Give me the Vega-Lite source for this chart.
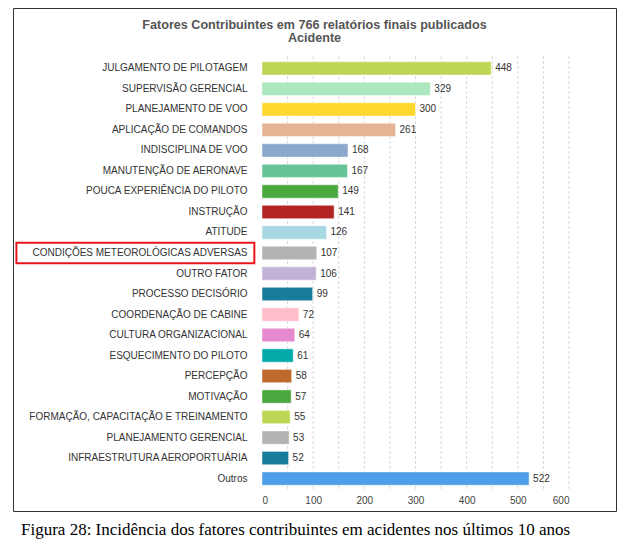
{
  "$schema": "https://vega.github.io/schema/vega-lite/v6.json",
  "background": "white",
  "padding": {"left": 12, "top": 7, "right": 10, "bottom": 10},
  "title": {
    "text": "Figura 28: Incidência dos fatores contribuintes em acidentes nos últimos 10 anos",
    "orient": "bottom",
    "anchor": "start",
    "frame": "group",
    "dx": 8,
    "offset": 10,
    "font": "Liberation Serif",
    "fontSize": 17,
    "fontWeight": "normal",
    "color": "#000000"
  },
  "datasets": {
    "fatores": [
      {"fator": "JULGAMENTO DE PILOTAGEM", "n": 448},
      {"fator": "SUPERVISÃO GERENCIAL", "n": 329},
      {"fator": "PLANEJAMENTO DE VOO", "n": 300},
      {"fator": "APLICAÇÃO DE COMANDOS", "n": 261},
      {"fator": "INDISCIPLINA DE VOO", "n": 168},
      {"fator": "MANUTENÇÃO DE AERONAVE", "n": 167},
      {"fator": "POUCA EXPERIÊNCIA DO PILOTO", "n": 149},
      {"fator": "INSTRUÇÃO", "n": 141},
      {"fator": "ATITUDE", "n": 126},
      {"fator": "CONDIÇÕES METEOROLÓGICAS ADVERSAS", "n": 107},
      {"fator": "OUTRO FATOR", "n": 106},
      {"fator": "PROCESSO DECISÓRIO", "n": 99},
      {"fator": "COORDENAÇÃO DE CABINE", "n": 72},
      {"fator": "CULTURA ORGANIZACIONAL", "n": 64},
      {"fator": "ESQUECIMENTO DO PILOTO", "n": 61},
      {"fator": "PERCEPÇÃO", "n": 58},
      {"fator": "MOTIVAÇÃO", "n": 57},
      {"fator": "FORMAÇÃO, CAPACITAÇÃO E TREINAMENTO", "n": 55},
      {"fator": "PLANEJAMENTO GERENCIAL", "n": 53},
      {"fator": "INFRAESTRUTURA AEROPORTUÁRIA", "n": 52},
      {"fator": "Outros", "n": 522}
    ],
    "grade": [
      {"v": 50}, {"v": 100}, {"v": 150}, {"v": 200}, {"v": 250}, {"v": 300},
      {"v": 350}, {"v": 400}, {"v": 450}, {"v": 500}, {"v": 550}, {"v": 600}
    ]
  },
  "vconcat": [
    {
      "width": 603,
      "height": 503,
      "title": {
        "text": ["Fatores Contribuintes em 766 relatórios finais publicados", "Acidente"],
        "frame": "group",
        "anchor": "middle",
        "offset": -37,
        "font": "Liberation Sans",
        "fontSize": 12.6,
        "fontWeight": "bold",
        "color": "#555555",
        "lineHeight": 13.5
      },
      "layer": [
        {
          "data": {"name": "grade"},
          "mark": {"type": "rule", "color": "#d9d9d9", "strokeDash": [3, 2], "strokeWidth": 1},
          "encoding": {
            "x": {
              "field": "v", "type": "quantitative",
              "scale": {"domain": [0, 600], "range": [249, 556], "nice": false, "zero": false},
              "axis": {
                "title": null, "orient": "bottom", "offset": -20, "grid": false, "domain": false, "ticks": false,
                "values": [0, 100, 200, 300, 400, 500, 600], "labelPadding": 4,
                "labelFont": "Liberation Sans", "labelFontSize": 10, "labelColor": "#444444"
              }
            },
            "y": {"datum": 0, "type": "quantitative", "scale": {"domain": [0, 1], "range": [48, 483], "nice": false, "zero": false}, "axis": null},
            "y2": {"datum": 1}
          }
        },
        {
          "data": {"name": "fatores"},
          "layer": [
            {
              "mark": {"type": "bar", "stroke": "#ffffff", "strokeOpacity": 0.45, "strokeWidth": 1},
              "encoding": {
                "y": {
                  "field": "fator", "type": "nominal", "sort": null,
                  "scale": {"range": [48, 483], "paddingInner": 0.35, "paddingOuter": 0.28},
                  "axis": {
                    "title": null, "orient": "left", "offset": -249, "domain": false, "ticks": false,
                    "labelPadding": 15, "labelFont": "Liberation Sans", "labelFontSize": 10,
                    "labelColor": "#333333", "labelLimit": 400
                  }
                },
                "x": {
                  "field": "n", "type": "quantitative",
                  "axis": {
                    "title": null, "orient": "bottom", "offset": -20, "grid": false, "domain": false, "ticks": false,
                    "values": [0, 100, 200, 300, 400, 500, 600], "labelPadding": 4,
                    "labelFont": "Liberation Sans", "labelFontSize": 10, "labelColor": "#444444"
                  }
                },
                "color": {
                  "field": "fator", "type": "nominal", "legend": null,
                  "scale": {
                    "domain": [
                      "JULGAMENTO DE PILOTAGEM", "SUPERVISÃO GERENCIAL", "PLANEJAMENTO DE VOO", "APLICAÇÃO DE COMANDOS",
                      "INDISCIPLINA DE VOO", "MANUTENÇÃO DE AERONAVE", "POUCA EXPERIÊNCIA DO PILOTO", "INSTRUÇÃO",
                      "ATITUDE", "CONDIÇÕES METEOROLÓGICAS ADVERSAS", "OUTRO FATOR", "PROCESSO DECISÓRIO",
                      "COORDENAÇÃO DE CABINE", "CULTURA ORGANIZACIONAL", "ESQUECIMENTO DO PILOTO", "PERCEPÇÃO",
                      "MOTIVAÇÃO", "FORMAÇÃO, CAPACITAÇÃO E TREINAMENTO", "PLANEJAMENTO GERENCIAL",
                      "INFRAESTRUTURA AEROPORTUÁRIA", "Outros"
                    ],
                    "range": [
                      "#bcd755", "#abe8bd", "#fed82f", "#e4b594", "#8ba8cb", "#66c497", "#4ba83f", "#b32525",
                      "#a8d8e3", "#b3b3b3", "#c3b2d7", "#1a7c9b", "#ffbfca", "#e68ad0", "#02abaa", "#bd6a2c",
                      "#4ba83f", "#bcd755", "#b3b3b3", "#1a7c9b", "#4f9fe8"
                    ]
                  }
                }
              }
            },
            {
              "mark": {"type": "text", "align": "left", "baseline": "middle", "dx": 4, "font": "Liberation Sans", "fontSize": 10, "color": "#333333"},
              "encoding": {
                "y": {"field": "fator", "type": "nominal", "sort": null},
                "x": {"field": "n", "type": "quantitative"},
                "text": {"field": "n", "type": "quantitative"}
              }
            },
            {
              "transform": [{"filter": "datum.fator === 'CONDIÇÕES METEOROLÓGICAS ADVERSAS'"}],
              "mark": {"type": "bar", "filled": false, "stroke": "#e8141c", "strokeWidth": 2, "height": {"band": 1.55}},
              "encoding": {
                "y": {"field": "fator", "type": "nominal", "sort": null},
                "x": {"datum": -480, "type": "quantitative"},
                "x2": {"datum": -15}
              }
            }
          ]
        }
      ],
      "resolve": {"scale": {"y": "independent"}}
    }
  ],
  "config": {
    "view": {"stroke": "#333333", "strokeWidth": 1}
  }
}
